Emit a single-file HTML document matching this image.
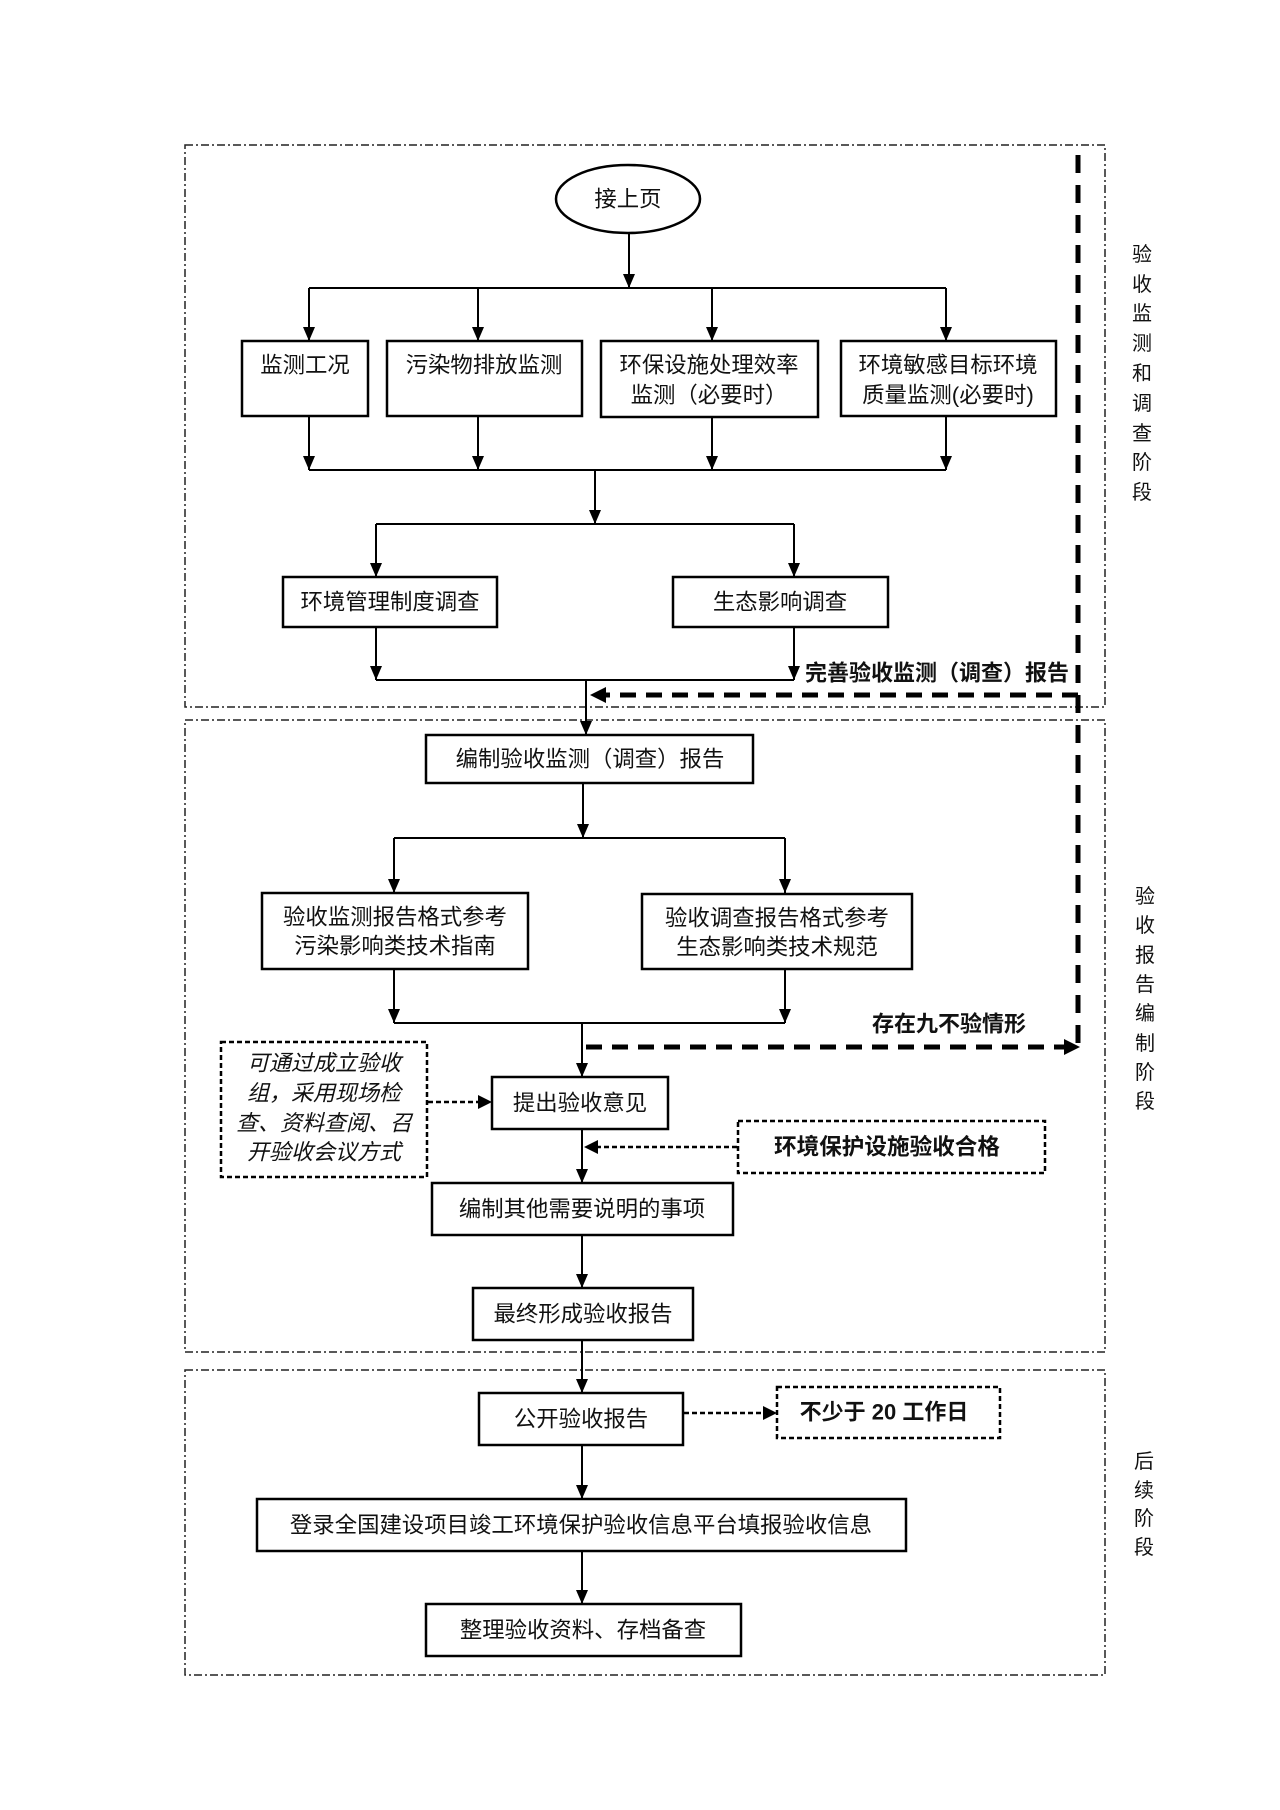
<!DOCTYPE html>
<html>
<head>
<meta charset="utf-8">
<style>
html,body{margin:0;padding:0;background:#fff;}
svg{display:block;}
text{font-family:"Liberation Sans","Noto Sans CJK SC",sans-serif;fill:#111;}
.t{font-size:22.4px;}
.b{font-size:22px;font-weight:bold;}
.i{font-size:22px;font-style:italic;}
.v{font-size:20px;}
</style>
</head>
<body>
<svg width="1280" height="1810" viewBox="0 0 1280 1810" xmlns="http://www.w3.org/2000/svg">
<rect width="1280" height="1810" fill="#fff"/>

<!-- section borders -->
<g fill="none" stroke="#222" stroke-width="1.5" stroke-dasharray="8 3 2 3">
<rect x="185" y="145" width="920" height="562"/>
<rect x="185" y="720" width="920" height="632"/>
<rect x="185" y="1370" width="920" height="305"/>
</g>

<!-- heavy dashed feedback -->
<g fill="none" stroke="#000" stroke-width="5">
<line x1="1078" y1="155" x2="1078" y2="1047" stroke-dasharray="18 12"/>
<line x1="1078" y1="695" x2="604" y2="695" stroke-dasharray="16 10"/>
<line x1="586" y1="1047" x2="1066" y2="1047" stroke-dasharray="16 10"/>
</g>
<polygon points="590,695 606,687 606,703" fill="#000"/>
<polygon points="1080,1047 1064,1039 1064,1055" fill="#000"/>

<!-- connectors -->
<g fill="none" stroke="#000" stroke-width="2">
<line x1="629" y1="233" x2="629" y2="288"/>
<line x1="309" y1="288" x2="946" y2="288"/>
<line x1="309" y1="288" x2="309" y2="341"/>
<line x1="478" y1="288" x2="478" y2="341"/>
<line x1="712" y1="288" x2="712" y2="341"/>
<line x1="946" y1="288" x2="946" y2="341"/>
<line x1="309" y1="416" x2="309" y2="470"/>
<line x1="478" y1="416" x2="478" y2="470"/>
<line x1="712" y1="417" x2="712" y2="470"/>
<line x1="946" y1="416" x2="946" y2="470"/>
<line x1="309" y1="470" x2="946" y2="470"/>
<line x1="595" y1="470" x2="595" y2="524"/>
<line x1="376" y1="524" x2="794" y2="524"/>
<line x1="376" y1="524" x2="376" y2="577"/>
<line x1="794" y1="524" x2="794" y2="577"/>
<line x1="376" y1="627" x2="376" y2="680"/>
<line x1="794" y1="627" x2="794" y2="680"/>
<line x1="376" y1="680" x2="794" y2="680"/>
<line x1="586" y1="680" x2="586" y2="735"/>
<line x1="583" y1="783" x2="583" y2="838"/>
<line x1="394" y1="838" x2="785" y2="838"/>
<line x1="394" y1="838" x2="394" y2="893"/>
<line x1="785" y1="838" x2="785" y2="893"/>
<line x1="394" y1="969" x2="394" y2="1023"/>
<line x1="785" y1="969" x2="785" y2="1023"/>
<line x1="394" y1="1023" x2="785" y2="1023"/>
<line x1="582" y1="1023" x2="582" y2="1077"/>
<line x1="582" y1="1129" x2="582" y2="1183"/>
<line x1="582" y1="1235" x2="582" y2="1288"/>
<line x1="582" y1="1340" x2="582" y2="1393"/>
<line x1="582" y1="1445" x2="582" y2="1499"/>
<line x1="582" y1="1551" x2="582" y2="1604"/>
</g>

<!-- arrowheads (down) -->
<g fill="#000">
<polygon points="623,274 635,274 629,288"/>
<polygon points="303,327 315,327 309,341"/>
<polygon points="472,327 484,327 478,341"/>
<polygon points="706,327 718,327 712,341"/>
<polygon points="940,327 952,327 946,341"/>
<polygon points="303,456 315,456 309,470"/>
<polygon points="472,456 484,456 478,470"/>
<polygon points="706,456 718,456 712,470"/>
<polygon points="940,456 952,456 946,470"/>
<polygon points="589,510 601,510 595,524"/>
<polygon points="370,563 382,563 376,577"/>
<polygon points="788,563 800,563 794,577"/>
<polygon points="370,666 382,666 376,680"/>
<polygon points="788,666 800,666 794,680"/>
<polygon points="580,721 592,721 586,735"/>
<polygon points="577,824 589,824 583,838"/>
<polygon points="388,879 400,879 394,893"/>
<polygon points="779,879 791,879 785,893"/>
<polygon points="388,1009 400,1009 394,1023"/>
<polygon points="779,1009 791,1009 785,1023"/>
<polygon points="576,1063 588,1063 582,1077"/>
<polygon points="576,1169 588,1169 582,1183"/>
<polygon points="576,1274 588,1274 582,1288"/>
<polygon points="576,1379 588,1379 582,1393"/>
<polygon points="576,1485 588,1485 582,1499"/>
<polygon points="576,1590 588,1590 582,1604"/>
</g>

<!-- dotted arrows -->
<g fill="none" stroke="#000" stroke-width="2.5" stroke-dasharray="5 3">
<line x1="428" y1="1102" x2="480" y2="1102"/>
<line x1="737" y1="1147" x2="596" y2="1147"/>
<line x1="684" y1="1413" x2="764" y2="1413"/>
</g>
<g fill="#000">
<polygon points="492,1102 478,1095 478,1109"/>
<polygon points="584,1147 598,1140 598,1154"/>
<polygon points="777,1413 763,1406 763,1420"/>
</g>

<!-- ellipse -->
<ellipse cx="628" cy="199" rx="72" ry="34" fill="#fff" stroke="#000" stroke-width="2.5"/>
<text class="t" x="628" y="199" text-anchor="middle" dominant-baseline="central">接上页</text>

<!-- solid boxes -->
<g fill="#fff" stroke="#000" stroke-width="2.5">
<rect x="242" y="341" width="126" height="75"/>
<rect x="387" y="341" width="195" height="75"/>
<rect x="601" y="341" width="217" height="76"/>
<rect x="841" y="341" width="215" height="75"/>
<rect x="283" y="577" width="214" height="50"/>
<rect x="673" y="577" width="215" height="50"/>
<rect x="426" y="735" width="327" height="48"/>
<rect x="262" y="893" width="266" height="76"/>
<rect x="642" y="894" width="270" height="75"/>
<rect x="492" y="1077" width="176" height="52"/>
<rect x="432" y="1183" width="301" height="52"/>
<rect x="473" y="1288" width="220" height="52"/>
<rect x="479" y="1393" width="204" height="52"/>
<rect x="257" y="1499" width="649" height="52"/>
<rect x="426" y="1604" width="315" height="52"/>
</g>

<!-- dashed boxes -->
<g fill="#fff" stroke="#000" stroke-width="2.5" stroke-dasharray="5 3">
<rect x="221" y="1042" width="206" height="135"/>
<rect x="738" y="1121" width="307" height="52"/>
<rect x="777" y="1387" width="223" height="51"/>
</g>

<!-- box texts -->
<text class="t" x="305" y="365" text-anchor="middle" dominant-baseline="central">监测工况</text>
<text class="t" x="484" y="365" text-anchor="middle" dominant-baseline="central">污染物排放监测</text>
<text class="t" x="709" y="365" text-anchor="middle" dominant-baseline="central">环保设施处理效率</text>
<text class="t" x="709" y="395" text-anchor="middle" dominant-baseline="central">监测（必要时）</text>
<text class="t" x="948" y="365" text-anchor="middle" dominant-baseline="central">环境敏感目标环境</text>
<text class="t" x="948" y="395" text-anchor="middle" dominant-baseline="central">质量监测(必要时)</text>
<text class="t" x="390" y="602" text-anchor="middle" dominant-baseline="central">环境管理制度调查</text>
<text class="t" x="780" y="602" text-anchor="middle" dominant-baseline="central">生态影响调查</text>
<text class="t" x="590" y="759" text-anchor="middle" dominant-baseline="central">编制验收监测（调查）报告</text>
<text class="t" x="395" y="917" text-anchor="middle" dominant-baseline="central">验收监测报告格式参考</text>
<text class="t" x="395" y="946" text-anchor="middle" dominant-baseline="central">污染影响类技术指南</text>
<text class="t" x="777" y="918" text-anchor="middle" dominant-baseline="central">验收调查报告格式参考</text>
<text class="t" x="777" y="947" text-anchor="middle" dominant-baseline="central">生态影响类技术规范</text>
<text class="t" x="580" y="1103" text-anchor="middle" dominant-baseline="central">提出验收意见</text>
<text class="t" x="582" y="1209" text-anchor="middle" dominant-baseline="central">编制其他需要说明的事项</text>
<text class="t" x="583" y="1314" text-anchor="middle" dominant-baseline="central">最终形成验收报告</text>
<text class="t" x="581" y="1419" text-anchor="middle" dominant-baseline="central">公开验收报告</text>
<text class="t" x="581" y="1525" text-anchor="middle" dominant-baseline="central">登录全国建设项目竣工环境保护验收信息平台填报验收信息</text>
<text class="t" x="583" y="1630" text-anchor="middle" dominant-baseline="central">整理验收资料、存档备查</text>

<!-- italic note -->
<text class="i" x="324" y="1063" text-anchor="middle" dominant-baseline="central">可通过成立验收</text>
<text class="i" x="324" y="1093" text-anchor="middle" dominant-baseline="central">组，采用现场检</text>
<text class="i" x="324" y="1123" text-anchor="middle" dominant-baseline="central">查、资料查阅、召</text>
<text class="i" x="324" y="1152" text-anchor="middle" dominant-baseline="central">开验收会议方式</text>

<!-- bold labels -->
<text class="b" x="887" y="1147" text-anchor="middle" dominant-baseline="central" style="font-size:22.6px">环境保护设施验收合格</text>
<text class="b" x="884" y="1412" text-anchor="middle" dominant-baseline="central">不少于 20 工作日</text>
<text class="b" x="937" y="673" text-anchor="middle" dominant-baseline="central">完善验收监测（调查）报告</text>
<text class="b" x="949" y="1024" text-anchor="middle" dominant-baseline="central">存在九不验情形</text>

<!-- right vertical labels -->
<text class="v" x="1142" y="255" text-anchor="middle" dominant-baseline="central">验</text>
<text class="v" x="1142" y="285" text-anchor="middle" dominant-baseline="central">收</text>
<text class="v" x="1142" y="314" text-anchor="middle" dominant-baseline="central">监</text>
<text class="v" x="1142" y="344" text-anchor="middle" dominant-baseline="central">测</text>
<text class="v" x="1142" y="374" text-anchor="middle" dominant-baseline="central">和</text>
<text class="v" x="1142" y="404" text-anchor="middle" dominant-baseline="central">调</text>
<text class="v" x="1142" y="434" text-anchor="middle" dominant-baseline="central">查</text>
<text class="v" x="1142" y="463" text-anchor="middle" dominant-baseline="central">阶</text>
<text class="v" x="1142" y="493" text-anchor="middle" dominant-baseline="central">段</text>

<text class="v" x="1145" y="897" text-anchor="middle" dominant-baseline="central">验</text>
<text class="v" x="1145" y="926" text-anchor="middle" dominant-baseline="central">收</text>
<text class="v" x="1145" y="956" text-anchor="middle" dominant-baseline="central">报</text>
<text class="v" x="1145" y="985" text-anchor="middle" dominant-baseline="central">告</text>
<text class="v" x="1145" y="1014" text-anchor="middle" dominant-baseline="central">编</text>
<text class="v" x="1145" y="1044" text-anchor="middle" dominant-baseline="central">制</text>
<text class="v" x="1145" y="1073" text-anchor="middle" dominant-baseline="central">阶</text>
<text class="v" x="1145" y="1102" text-anchor="middle" dominant-baseline="central">段</text>

<text class="v" x="1144" y="1462" text-anchor="middle" dominant-baseline="central">后</text>
<text class="v" x="1144" y="1491" text-anchor="middle" dominant-baseline="central">续</text>
<text class="v" x="1144" y="1519" text-anchor="middle" dominant-baseline="central">阶</text>
<text class="v" x="1144" y="1548" text-anchor="middle" dominant-baseline="central">段</text>
</svg>
</body>
</html>
